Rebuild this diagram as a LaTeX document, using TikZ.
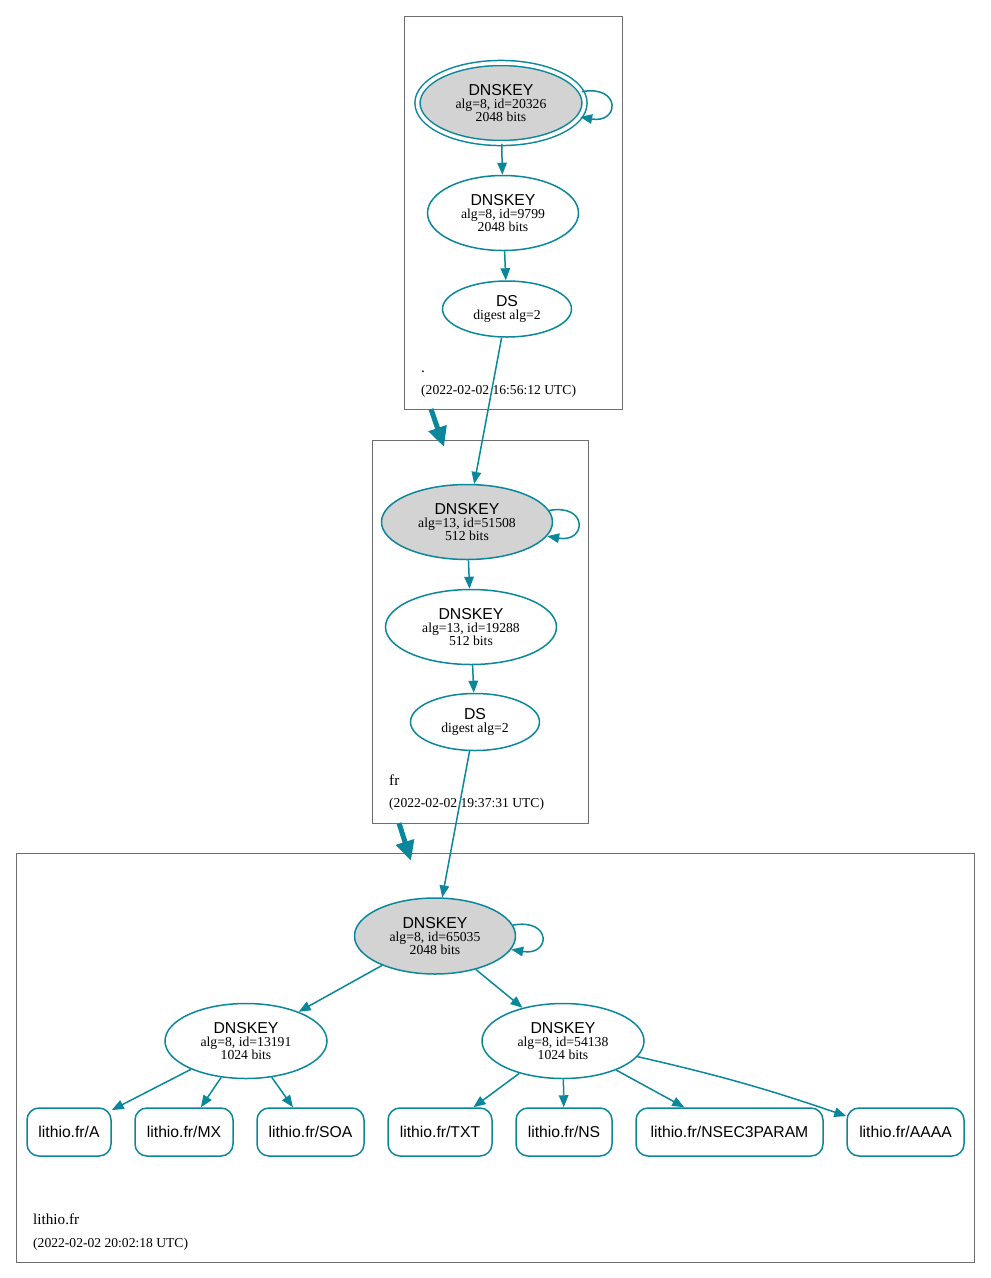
\documentclass[tikz,border=0pt]{standalone}
\usepackage{fontspec}
\setmainfont{Liberation Serif}
\setsansfont{Liberation Sans}
\usetikzlibrary{arrows.meta,shapes.geometric}
\definecolor{sec}{HTML}{0A879A}
\definecolor{ksk}{HTML}{D3D3D3}
\definecolor{clu}{HTML}{6E6E6E}
\newcommand{\kt}[3]{{\sffamily\fontsize{15.8}{16}\selectfont #1}\\[0.5pt]#2\\#3}
\tikzset{
  x=1pt,y=1pt,
  key/.style={ellipse,draw=sec,line width=1.5pt,inner sep=0pt,align=center,
    font=\rmfamily\fontsize{13.7}{13.2}\selectfont},
  sep/.style={key,fill=ksk},
  rec/.style={rectangle,rounded corners=12pt,draw=sec,line width=1.5pt,minimum height=48pt,
    inner sep=0pt,font=\sffamily\fontsize{15.7}{16}\selectfont},
  clus/.style={rectangle,draw=clu,line width=0.9pt,inner sep=0pt},
  edge/.style={draw=sec,line width=1.5pt,-{Triangle[length=12pt,width=9.5pt]}},
  zedge/.style={draw=sec,line width=5pt,-{Triangle[length=20pt,width=18pt]}},
  kloop/.style={out=10,in=-10,distance=40pt},
  lbl/.style={inner sep=0pt,anchor=base west,font=\rmfamily\fontsize{15.2}{16}\selectfont},
  dt/.style={inner sep=0pt,anchor=base west,font=\rmfamily\fontsize{13.6}{14}\selectfont},
}
\begin{document}
\begin{tikzpicture}
\useasboundingbox (0,0) rectangle (991,-1278);
% clusters
\node[clus,minimum width=218pt,minimum height=393pt] (c1) at (513,-212.5) {};
\node[clus,minimum width=216pt,minimum height=383pt] (c2) at (480,-631.5) {};
\node[clus,minimum width=958pt,minimum height=409pt] (c3) at (495,-1057.5) {};
\node[lbl] (l1) at (421,-372) {.};
\node[dt] (d1) at (421,-394) {(2022-02-02 16:56:12 UTC)};
\node[lbl] (l2) at (389,-785) {fr};
\node[dt] (d2) at (389,-807) {(2022-02-02 19:37:31 UTC)};
\node[lbl] (l3) at (33,-1224) {lithio.fr};
\node[dt] (d3) at (33,-1247) {(2022-02-02 20:02:18 UTC)};
% root zone
\node[sep,double=white,double distance=3.6pt,minimum width=167pt,minimum height=80pt] (rk) at (501,-103) {\kt{DNSKEY}{alg=8, id=20326}{2048 bits}};
\node[key,minimum width=151pt,minimum height=75pt] (rz) at (503,-213) {\kt{DNSKEY}{alg=8, id=9799}{2048 bits}};
\node[key,minimum width=129pt,minimum height=56pt] (rds) at (507,-309) {{\sffamily\fontsize{15.8}{16}\selectfont DS}\\[0.5pt]digest alg=2};
% fr zone
\node[sep,minimum width=171pt,minimum height=75pt] (fk) at (467,-522) {\kt{DNSKEY}{alg=13, id=51508}{512 bits}};
\node[key,minimum width=171pt,minimum height=75pt] (fz) at (471,-627) {\kt{DNSKEY}{alg=13, id=19288}{512 bits}};
\node[key,minimum width=129pt,minimum height=57pt] (fds) at (475,-722) {{\sffamily\fontsize{15.8}{16}\selectfont DS}\\[0.5pt]digest alg=2};
% lithio.fr zone
\node[sep,minimum width=161pt,minimum height=76pt] (lk) at (435,-936) {\kt{DNSKEY}{alg=8, id=65035}{2048 bits}};
\node[key,minimum width=162pt,minimum height=75pt] (lz1) at (246,-1041) {\kt{DNSKEY}{alg=8, id=13191}{1024 bits}};
\node[key,minimum width=162pt,minimum height=75pt] (lz2) at (563,-1041) {\kt{DNSKEY}{alg=8, id=54138}{1024 bits}};
\node[rec,minimum width=84pt] (ra) at (69,-1132) {lithio.fr/A};
\node[rec,minimum width=98pt] (rmx) at (184,-1132) {lithio.fr/MX};
\node[rec,minimum width=107pt] (rsoa) at (310.5,-1132) {lithio.fr/SOA};
\node[rec,minimum width=104pt] (rtxt) at (440,-1132) {lithio.fr/TXT};
\node[rec,minimum width=96pt] (rns) at (564,-1132) {lithio.fr/NS};
\node[rec,minimum width=187pt] (rn3) at (729.5,-1132) {lithio.fr/NSEC3PARAM};
\node[rec,minimum width=117pt] (raaaa) at (905.5,-1132) {lithio.fr/AAAA};
% zone delegation arrows
\coordinate (z1s) at (431,-409);
\coordinate (z1e) at (444,-447);
\coordinate (z2s) at (399,-823);
\coordinate (z2e) at (411,-861);
\draw[zedge] (z1s) -- (z1e);
\draw[zedge] (z2s) -- (z2e);
% edges
\draw[edge] (rk.8) to[kloop] (rk.-10);
\draw[edge] (rk) -- (rz);
\draw[edge] (rz) -- (rds);
\draw[edge] (rds) -- (fk);
\draw[edge] (fk.8) to[kloop] (fk.-10);
\draw[edge] (fk) -- (fz);
\draw[edge] (fz) -- (fds);
\draw[edge] (fds) -- (lk);
\draw[edge] (lk.8) to[kloop] (lk.-10);
\draw[edge] (lk) -- (lz1);
\draw[edge] (lk) -- (lz2);
\draw[edge] (lz1) -- (ra);
\draw[edge] (lz1) -- (rmx);
\draw[edge] (lz1) -- (rsoa);
\draw[edge] (lz2) -- (rtxt);
\draw[edge] (lz2) -- (rns);
\draw[edge] (lz2) -- (rn3);
\draw[edge] (lz2) to[bend left=3] (raaaa.165);
\end{tikzpicture}
\end{document}
